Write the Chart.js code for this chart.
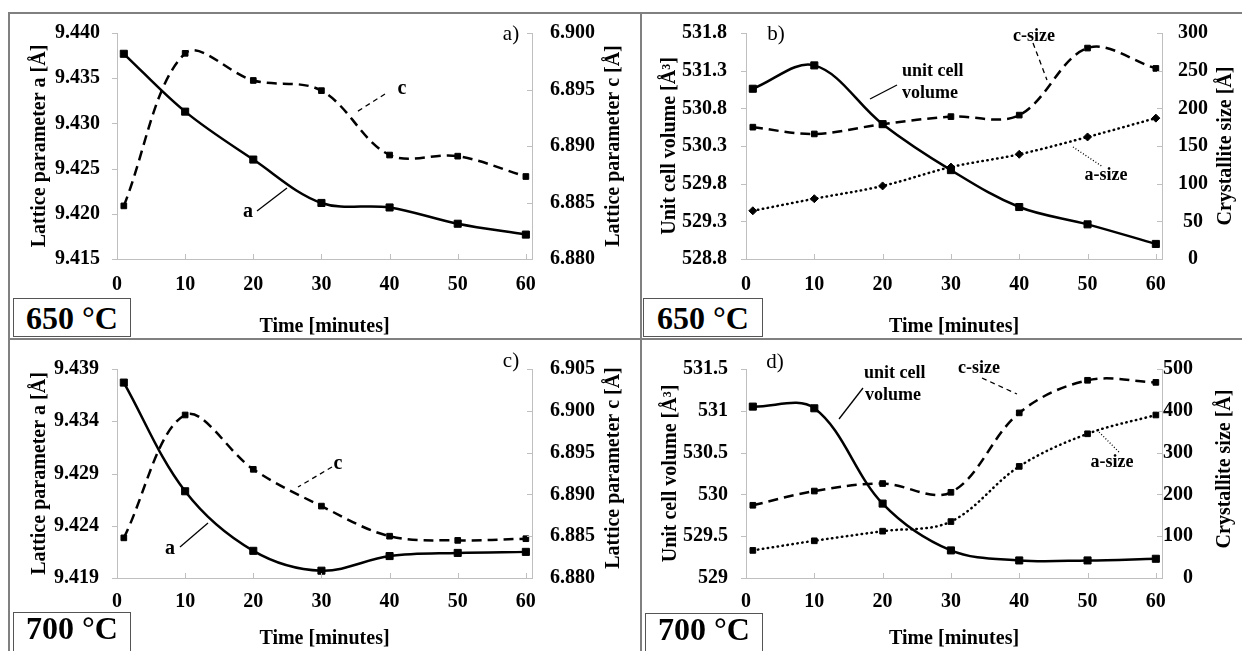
<!DOCTYPE html>
<html>
<head>
<meta charset="utf-8">
<script src="https://cdn.jsdelivr.net/npm/chart.js@4.4.1/dist/chart.umd.min.js"></script>
<style>
  html, body { margin: 0; padding: 0; background: #fff; }
  #page { position: relative; width: 1242px; height: 651px; overflow: hidden; background: #fff;
          font-family: 'Liberation Serif', 'Times New Roman', serif; }
  #page canvas { position: absolute; }
  .rule { position: absolute; background: #808080; }
  .temp { position: absolute; box-sizing: border-box; border: 1.5px solid #555; background: #fff;
          font-weight: bold; font-size: 32px; text-align: center; color: #000; }
</style>
</head>
<body>
<div id="page">
  <canvas id="chartA" width="641" height="339" style="left:0;top:0"></canvas>
  <canvas id="chartB" width="601" height="339" style="left:641px;top:0"></canvas>
  <canvas id="chartC" width="641" height="312" style="left:0;top:339px"></canvas>
  <canvas id="chartD" width="601" height="312" style="left:641px;top:339px"></canvas>

  <div class="rule" style="left:9px;top:12px;width:1233px;height:2px"></div>
  <div class="rule" style="left:8px;top:12px;width:2px;height:639px"></div>
  <div class="rule" style="left:640px;top:12px;width:2px;height:639px"></div>
  <div class="rule" style="left:9px;top:338px;width:1233px;height:2px"></div>

  <div class="temp" style="left:13px;top:298px;width:118px;height:39px;line-height:38px">650 °C</div>
  <div class="temp" style="left:643px;top:298px;width:120px;height:39px;line-height:38px">650 °C</div>
  <div class="temp" style="left:13px;top:612px;width:118px;height:45px;line-height:30px">700 °C</div>
  <div class="temp" style="left:645px;top:613px;width:118px;height:45px;line-height:30px">700 °C</div>
</div>
<script>
// time points (minutes)
const time = [1, 10, 20, 30, 40, 50, 60];
const timeTicks = [0, 10, 20, 30, 40, 50, 60];

// a) 650 °C lattice parameters
const latticeA650 = [9.4377, 9.4313, 9.4260, 9.4212, 9.4207, 9.4189, 9.4177];
const latticeC650 = [6.8847, 6.8982, 6.8958, 6.8949, 6.8892, 6.8891, 6.8873];
const ticksA650 = ['9.415', '9.420', '9.425', '9.430', '9.435', '9.440'];
const ticksC650 = ['6.880', '6.885', '6.890', '6.895', '6.900'];

// b) 650 °C volume and crystallite size
const volume650 = [531.06, 531.37, 530.59, 529.98, 529.49, 529.26, 529.00];
const cSize650 = [175, 166, 179, 189, 191, 280, 253];
const aSize650 = [64, 80, 97, 122, 139, 162, 187];
const volTicks650 = ['528.8', '529.3', '529.8', '530.3', '530.8', '531.3', '531.8'];
const sizeTicks650 = ['0', '50', '100', '150', '200', '250', '300'];

// c) 700 °C lattice parameters
const latticeA700 = [9.4377, 9.4273, 9.4216, 9.4197, 9.4211, 9.4214, 9.4215];
const latticeC700 = [6.8848, 6.8995, 6.8930, 6.8886, 6.8850, 6.8845, 6.8847];
const ticksA700 = ['9.419', '9.424', '9.429', '9.434', '9.439'];
const ticksC700 = ['6.880', '6.885', '6.890', '6.895', '6.900', '6.905'];

// d) 700 °C volume and crystallite size
const volume700 = [531.05, 531.03, 529.89, 529.33, 529.21, 529.21, 529.23];
const cSize700 = [174, 208, 226, 205, 395, 473, 468];
const aSize700 = [66, 89, 112, 135, 267, 345, 390];
const volTicks700 = ['529', '529.5', '530', '530.5', '531', '531.5'];
const sizeTicks700 = ['0', '100', '200', '300', '400', '500'];

const serif = "'Liberation Serif', 'Times New Roman', serif";
const axisGray = '#bfbfbf';
const tickFont = { family: serif, size: 20, weight: 'bold' };
const titleFont = { family: serif, size: 20, weight: 'bold' };

Chart.defaults.font.family = serif;
Chart.defaults.color = '#000';

// little tick stubs like Excel: left outside, right and bottom inside
const tickStubs = {
    id: 'tickStubs',
    afterDraw(chart) {
        const ctx = chart.ctx;
        const a = chart.chartArea;
        ctx.save();
        ctx.strokeStyle = axisGray;
        ctx.lineWidth = 1;
        ctx.beginPath();
        chart.scales.x.ticks.forEach(t => {
            const px = Math.round(chart.scales.x.getPixelForValue(t.value)) + 0.5;
            ctx.moveTo(px, a.bottom);
            ctx.lineTo(px, a.bottom - 5);
        });
        chart.scales.y.ticks.forEach(t => {
            const py = Math.round(chart.scales.y.getPixelForValue(t.value)) + 0.5;
            ctx.moveTo(a.left - 5, py);
            ctx.lineTo(a.left, py);
        });
        chart.scales.y2.ticks.forEach(t => {
            const py = Math.round(chart.scales.y2.getPixelForValue(t.value)) + 0.5;
            ctx.moveTo(a.right - 5, py);
            ctx.lineTo(a.right, py);
        });
        ctx.stroke();
        ctx.restore();
    }
};

// text labels, rotated right-axis titles and leader lines
function notesPlugin(notes) {
    return {
        id: 'notes',
        afterDraw(chart) {
            const ctx = chart.ctx;
            notes.forEach(n => {
                ctx.save();
                if (n.text) {
                    ctx.font = n.font;
                    ctx.fillStyle = '#000';
                    ctx.textAlign = n.align || 'center';
                    ctx.textBaseline = 'middle';
                    ctx.translate(n.x, n.y);
                    if (n.rotate) ctx.rotate(-Math.PI / 2);
                    ctx.fillText(n.text, 0, 0);
                } else {
                    ctx.beginPath();
                    ctx.setLineDash(n.dash || []);
                    ctx.lineWidth = 1.3;
                    ctx.strokeStyle = '#000';
                    ctx.moveTo(n.x1, n.y1);
                    ctx.lineTo(n.x2, n.y2);
                    ctx.stroke();
                }
                ctx.restore();
            });
        }
    };
}

function xAxis(height, labelPad, titlePad) {
    return {
        type: 'linear',
        position: 'bottom',
        min: 0,
        max: 60.9,
        afterBuildTicks: s => { s.ticks = timeTicks.map(v => ({ value: v })); },
        afterFit: s => { s.height = height; },
        ticks: { font: tickFont, color: '#000', padding: labelPad, maxRotation: 0, autoSkip: false,
                 callback: (v, i) => String(timeTicks[i]) },
        grid: { drawOnChartArea: false, drawTicks: false },
        border: { color: axisGray, width: 1 },
        title: { display: true, text: 'Time [minutes]', font: titleFont, color: '#000',
                 padding: { top: titlePad, bottom: 0 } }
    };
}

function yAxis(labels, position, width, labelPad, crossAlign, title, titlePad) {
    const vals = labels.map(Number);
    return {
        type: 'linear',
        position: position,
        min: vals[0],
        max: vals[vals.length - 1],
        afterBuildTicks: s => { s.ticks = vals.map(v => ({ value: v })); },
        afterFit: s => { s.width = width; },
        ticks: { font: tickFont, color: '#000', padding: labelPad, crossAlign: crossAlign,
                 callback: (v, i) => labels[i] },
        grid: { drawOnChartArea: false, drawTicks: false },
        border: { color: axisGray, width: 1 },
        title: { display: !!title, text: title || '', font: titleFont, color: '#000',
                 padding: { top: titlePad || 0, bottom: 0 } }
    };
}

function points(values) {
    return time.map((t, i) => ({ x: t, y: values[i] }));
}

function solidLine(values, axis) {
    return {
        data: points(values), yAxisID: axis,
        borderColor: '#000', borderWidth: 2.5, tension: 0.35,
        pointStyle: 'rect', pointRadius: 5, pointBackgroundColor: '#000',
        pointBorderColor: '#000', pointBorderWidth: 1
    };
}

function dashedLine(values, axis) {
    return {
        data: points(values), yAxisID: axis,
        borderColor: '#000', borderWidth: 2.5, borderDash: [10, 6], tension: 0.35,
        pointStyle: 'rect', pointRadius: 4, pointBackgroundColor: '#000',
        pointBorderColor: '#000', pointBorderWidth: 1
    };
}

function dottedLine(values, axis, marker) {
    return {
        data: points(values), yAxisID: axis,
        borderColor: '#000', borderWidth: 2.5, borderDash: [0.5, 4.5], borderCapStyle: 'round',
        tension: 0.35,
        pointStyle: marker, pointRadius: 4, pointBackgroundColor: '#000',
        pointBorderColor: '#000', pointBorderWidth: 1
    };
}

function makeChart(id, datasets, scales, padding, notes) {
    new Chart(document.getElementById(id), {
        type: 'line',
        data: { datasets: datasets },
        options: {
            responsive: false,
            animation: false,
            devicePixelRatio: 1,
            layout: { padding: padding },
            plugins: { legend: { display: false }, tooltip: { enabled: false } },
            scales: scales
        },
        plugins: [tickStubs, notesPlugin(notes)]
    });
}

const boldNote = 'bold 20px ' + serif;
const smallNote = 'bold 18px ' + serif;
const panelTag = '21px ' + serif;

// a)
makeChart('chartA',
    [solidLine(latticeA650, 'y'), dashedLine(latticeC650, 'y2')],
    {
        x: xAxis(80, 14, 15),
        y: yAxis(ticksA650, 'left', 117, 17, 'near', 'Lattice parameter a [Å]', 28),
        y2: yAxis(ticksC650, 'right', 109, 18, 'near')
    },
    { top: 33, left: 0, right: 0, bottom: 0 },
    [
        { text: 'Lattice parameter c [Å]', x: 614, y: 146, font: boldNote, rotate: true },
        { text: 'a)', x: 511, y: 34, font: panelTag },
        { text: 'c', x: 402, y: 89, font: boldNote },
        { x1: 385, y1: 94, x2: 355, y2: 113, dash: [5, 4] },
        { text: 'a', x: 248, y: 212, font: boldNote },
        { x1: 257, y1: 211, x2: 287, y2: 188 }
    ]);

// b)
makeChart('chartB',
    [solidLine(volume650, 'y'), dashedLine(cSize650, 'y2'), dottedLine(aSize650, 'y2', 'rectRot')],
    {
        x: xAxis(80, 14, 15),
        y: yAxis(volTicks650, 'left', 105, 19, 'near', 'Unit cell volume [Å³]', 17),
        y2: yAxis(sizeTicks650, 'right', 80, 16, 'center')
    },
    { top: 33, left: 0, right: 0, bottom: 0 },
    [
        { text: 'Crystallite size [Å]', x: 585, y: 146, font: boldNote, rotate: true },
        { text: 'b)', x: 135, y: 34, font: panelTag },
        { text: 'unit cell', x: 261, y: 71, font: smallNote, align: 'left' },
        { text: 'volume', x: 261, y: 93, font: smallNote, align: 'left' },
        { x1: 229, y1: 99, x2: 256, y2: 85 },
        { text: 'c-size', x: 393, y: 36, font: smallNote },
        { x1: 392, y1: 43, x2: 406, y2: 80, dash: [5, 4] },
        { text: 'a-size', x: 465, y: 175, font: smallNote },
        { x1: 432, y1: 147, x2: 462, y2: 167, dash: [1, 2] }
    ]);

// c)
makeChart('chartC',
    [solidLine(latticeA700, 'y'), dashedLine(latticeC700, 'y2')],
    {
        x: xAxis(73, 12, 10),
        y: yAxis(ticksA700, 'left', 117, 18, 'near', 'Lattice parameter a [Å]', 28),
        y2: yAxis(ticksC700, 'right', 109, 18, 'near')
    },
    { top: 19, left: 0, right: 0, bottom: 0 },
    [
        { text: 'Lattice parameter c [Å]', x: 614, y: 129, font: boldNote, rotate: true },
        { text: 'c)', x: 511, y: 22, font: panelTag },
        { text: 'c', x: 338, y: 125, font: boldNote },
        { x1: 332, y1: 128, x2: 298, y2: 148, dash: [5, 4] },
        { text: 'a', x: 170, y: 210, font: boldNote },
        { x1: 180, y1: 208, x2: 208, y2: 184 }
    ]);

// d) right labels are right-aligned, so the right axis box ends where they end
makeChart('chartD',
    [solidLine(volume700, 'y'), dashedLine(cSize700, 'y2'), dottedLine(aSize700, 'y2', 'rect')],
    {
        x: xAxis(73, 12, 10),
        y: yAxis(volTicks700, 'left', 105, 18, 'near', 'Unit cell volume [Å³]', 18),
        y2: yAxis(sizeTicks700, 'right', 31, 0, 'far')
    },
    { top: 20, left: 0, right: 49, bottom: 0 },
    [
        { text: 'Crystallite size [Å]', x: 584, y: 130, font: boldNote, rotate: true },
        { text: 'd)', x: 134, y: 23, font: panelTag },
        { text: 'unit cell', x: 223, y: 34, font: smallNote, align: 'left' },
        { text: 'volume', x: 224, y: 56, font: smallNote, align: 'left' },
        { x1: 198, y1: 80, x2: 222, y2: 49 },
        { text: 'c-size', x: 338, y: 29, font: smallNote },
        { x1: 341, y1: 39, x2: 376, y2: 55, dash: [5, 4] },
        { text: 'a-size', x: 471, y: 123, font: smallNote },
        { x1: 456, y1: 91, x2: 479, y2: 114, dash: [1, 2] }
    ]);
</script>
</body>
</html>
